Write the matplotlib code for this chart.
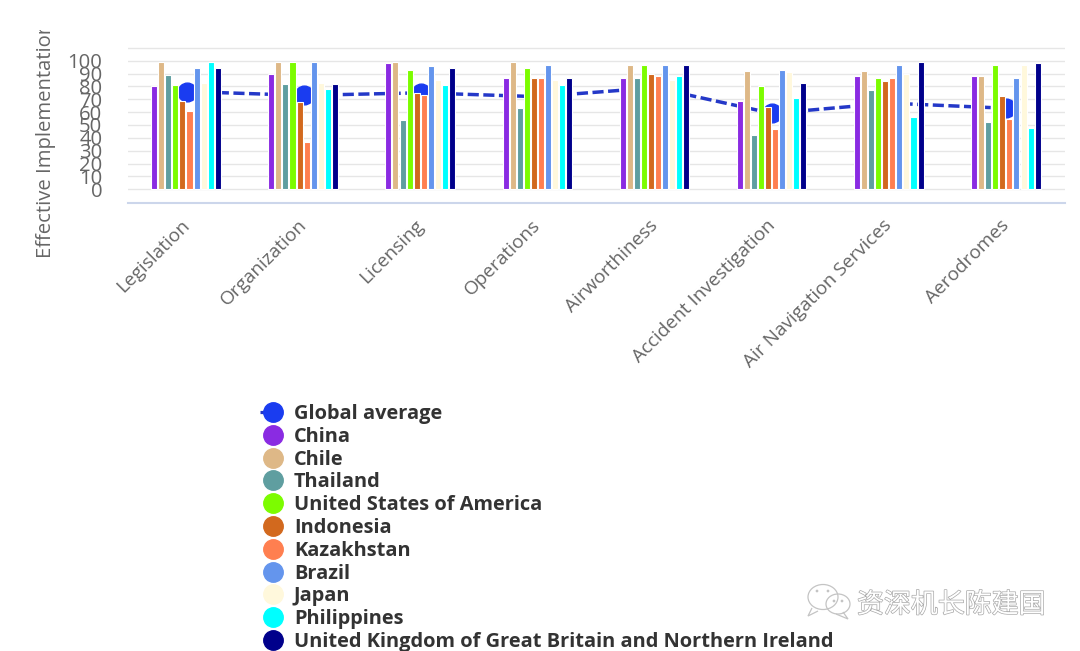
import numpy as np
import matplotlib
matplotlib.use('Agg')
import matplotlib.pyplot as plt
import matplotlib.patheffects as pe
from matplotlib.lines import Line2D
from matplotlib.patches import Ellipse, PathPatch
from matplotlib.path import Path
from matplotlib.transforms import Bbox, IdentityTransform, ScaledTranslation, TransformedBbox

categories = ['Legislation', 'Organization', 'Licensing', 'Operations', 'Airworthiness',
              'Accident Investigation', 'Air Navigation Services', 'Aerodromes']

global_average = [76, 73, 75, 72, 79, 59, 67, 63]

china = [80, 90, 98, 86.5, 86.5, 69, 88, 88]
chile = [99, 99, 99, 99, 96.5, 92, 92, 88]
thailand = [89, 82, 53.5, 63.5, 86.5, 42, 77.5, 52]
usa = [81, 99, 93, 94, 97, 80, 86.5, 97]
indonesia = [69, 68, 75, 86.5, 90, 64, 84, 72.5]
kazakhstan = [61, 37, 73.5, 86.5, 88, 47, 86.5, 55]
brazil = [94, 99, 95.5, 97, 97, 93, 97, 86.5]
japan = [83, 83, 85, 85, 85, 91, 90, 97]
philippines = [99, 78, 81, 81, 88, 71, 56, 48]
uk = [94, 82, 94, 86.5, 97, 82.5, 99, 98]

y_ticks = [0, 10, 20, 30, 40, 50, 60, 70, 80, 90, 100, 110]
y_labels = ['0', '10', '20', '30', '40', '50', '60', '70', '80', '90', '100', '']

bar_series = [
    ('China', china, '#8a2be2'),
    ('Chile', chile, '#deb887'),
    ('Thailand', thailand, '#5f9ea0'),
    ('United States of America', usa, '#7cfc00'),
    ('Indonesia', indonesia, '#d2691e'),
    ('Kazakhstan', kazakhstan, '#ff7f50'),
    ('Brazil', brazil, '#6495ed'),
    ('Japan', japan, '#fff8dc'),
    ('Philippines', philippines, '#00ffff'),
    ('United Kingdom of Great Britain and Northern Ireland', uk, '#00008b'),
]

W, H = 1080, 651
plt.rcParams['font.family'] = ['Open Sans', 'DejaVu Sans']

fig = plt.figure(figsize=(W / 100, H / 100), dpi=100)
ax = fig.add_axes([128 / W, 1 - 203 / H, (1065 - 128) / W, (203 - 47) / H])

x = np.arange(len(categories))
pitch = 0.0604

# columns sit on top of the average line and hide most of it
# the white outline closes the gaps between neighbouring columns
for i, (name, values, color) in enumerate(bar_series):
    ax.bar(x + (i - 4.5) * pitch - 0.005, values, width=0.0515, color=color,
           edgecolor='white', linewidth=0.78, zorder=3)

ax.plot(x, global_average, color='#2438c8', lw=2.5, linestyle=(0, (3.2, 1.3)),
        marker='o', markersize=13.5, markerfacecolor='#1a3cf0',
        markeredgecolor='#1a3cf0', zorder=2)

ax.set_xlim(-0.5, len(categories) - 0.5)
ax.set_ylim(-10.6, 110.6)
ax.set_yticks(y_ticks)
ax.set_yticklabels(y_labels, fontsize=14.6, color='#666666')
ax.set_xticks(x)
ax.set_xticklabels(categories, fontsize=13.7, color='#666666', rotation=45,
                   ha='right', va='center', rotation_mode='anchor')
nudge = ScaledTranslation(3 / 100, 0, fig.dpi_scale_trans)
for label in ax.get_xticklabels():
    label.set_transform(label.get_transform() + nudge)
ax.tick_params(axis='x', length=0, pad=14)
ax.tick_params(axis='y', length=0, pad=18.5)
ax.grid(axis='y', color='#e6e6e6', lw=1.0, zorder=0)
ax.set_axisbelow(True)
for side in ['top', 'left', 'right']:
    ax.spines[side].set_visible(False)
ax.spines['bottom'].set_color('#ccd6eb')
ax.spines['bottom'].set_linewidth(1.5)

# axis title runs off the top of its box, so it gets cut there
title = fig.text(46 / W, 1 - 258 / H, 'Effective Implementation', rotation=90,
                 ha='center', va='bottom', fontsize=14.6, color='#666666')
title.set_clip_on(True)
title.set_clip_box(TransformedBbox(Bbox([[0, 0], [1, 1 - 30 / H]]), fig.transFigure))

handles = [Line2D([], [], color='#2438c8', lw=2.3, linestyle=(0, (5, 6)), marker='o',
                  markersize=14, markerfacecolor='#1a3cf0', markeredgecolor='#1a3cf0')]
labels = ['Global average']
for name, values, color in bar_series:
    handles.append(Line2D([], [], linestyle='none', marker='o', markersize=14,
                          markerfacecolor=color, markeredgecolor=color))
    labels.append(name)

fig.legend(handles, labels, loc='upper left', bbox_to_anchor=(260 / W, 1 - 404 / H),
           frameon=False, ncols=1, borderpad=0, borderaxespad=0, labelspacing=0.14,
           handlelength=1.25, handletextpad=0.45, labelcolor='#333333',
           prop={'family': 'Open Sans', 'weight': 'bold', 'size': 14.4})

# watermark: caption and the pair of chat bubbles beside it
fig.text(857 / W, 1 - 605 / H, '资深机长陈建国', fontsize=19.4, color='white', va='center',
         family=['Noto Sans CJK SC', 'DejaVu Sans'],
         path_effects=[pe.withStroke(linewidth=1.0, foreground='#a8a8a8')])


def px_ellipse(cx, cy, w, h, fill=False):
    return Ellipse((cx, H - cy), w, h, fill=fill, edgecolor='#c4c4c4', facecolor='#c4c4c4',
                   lw=0.9, transform=IdentityTransform())


def px_tail(points):
    verts = [(px, H - py) for px, py in points]
    return PathPatch(Path(verts), fill=False, edgecolor='#c4c4c4', lw=0.9,
                     transform=IdentityTransform())


fig.add_artist(px_ellipse(823, 597, 30, 25))
fig.add_artist(px_ellipse(838, 604, 24, 20))
fig.add_artist(px_tail([(812, 608), (808, 616), (818, 611)]))
fig.add_artist(px_tail([(843, 612), (848, 619), (836, 614)]))
for cx, cy in [(817, 591), (828, 591), (834, 601), (842, 601)]:
    fig.add_artist(px_ellipse(cx, cy, 1.5, 1.5, fill=True))

fig.savefig('out.png', dpi=100)
